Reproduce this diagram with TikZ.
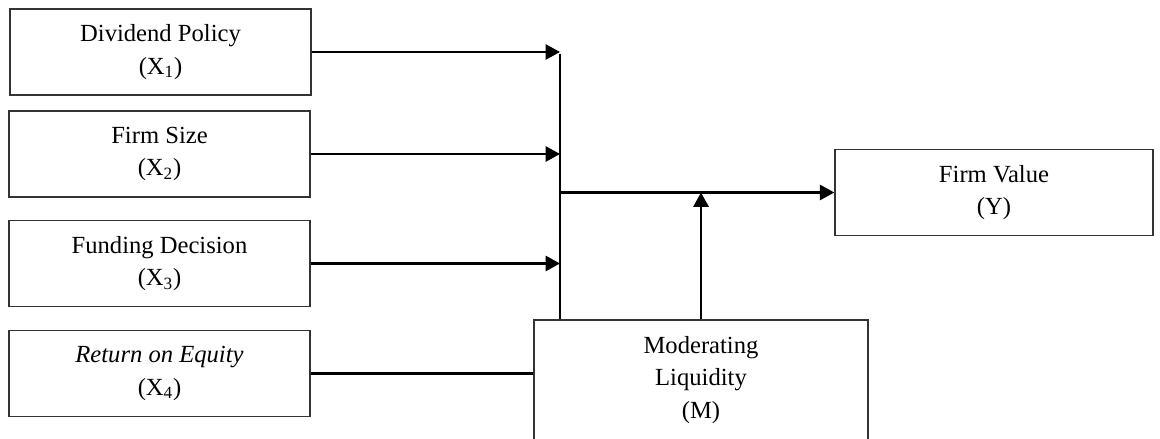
\documentclass[tikz,border=0pt]{standalone}
\usepackage{fontspec}
\setmainfont{Liberation Serif}
\usetikzlibrary{arrows.meta}

\tikzset{
    varbox/.style={draw=black!80, line width=0.9pt, align=center, inner sep=0pt,
        minimum width=7.525cm, minimum height=2.15cm,
        font=\fontsize{17.5}{23}\selectfont},
    link/.style={line width=1.6pt},
    flow/.style={link, -{Triangle[length=0.36cm, width=0.38cm]}}
}

\begin{document}
\begin{tikzpicture}[x=0.025cm, y=-0.025cm]
            \useasboundingbox (0,0) rectangle (1160,439);
            \clip (0,0) rectangle (1160,439);

            %independent variables
            \node[varbox] (dp)  at (160.5,52)  {Dividend Policy\\(X\textsubscript{1})};
            \node[varbox] (fs)  at (159.5,154) {Firm Size\\(X\textsubscript{2})};
            \node[varbox] (fd)  at (159.5,263.5) {Funding Decision\\(X\textsubscript{3})};
            \node[varbox] (roe) at (159.5,373.5) {\textit{Return on Equity}\\(X\textsubscript{4})};

            %dependent and moderating variables
            \node[varbox, minimum width=7.95cm] (fv) at (994,192.5) {Firm Value\\(Y)};
            \node[varbox, minimum width=8.35cm, minimum height=3cm] (mod) at (701,380) {Moderating\\Liquidity\\(M)};

            \coordinate (bus) at (560,54);

            %connectors
            \draw[link] (bus) -- (bus |- mod.north);
            \draw[flow] (dp.east) -- (dp.east -| bus);
            \draw[flow] (fs.east) -- (fs.east -| bus);
            \draw[flow] (fd.east) -- (fd.east -| bus);
            \draw[link] (roe.east) -- (roe.east -| mod.west);
            \draw[flow] (bus |- fv.west) -- (fv.west);
            \draw[flow] (mod.north) -- (mod.north |- fv.west);

        \end{tikzpicture}
\end{document}
